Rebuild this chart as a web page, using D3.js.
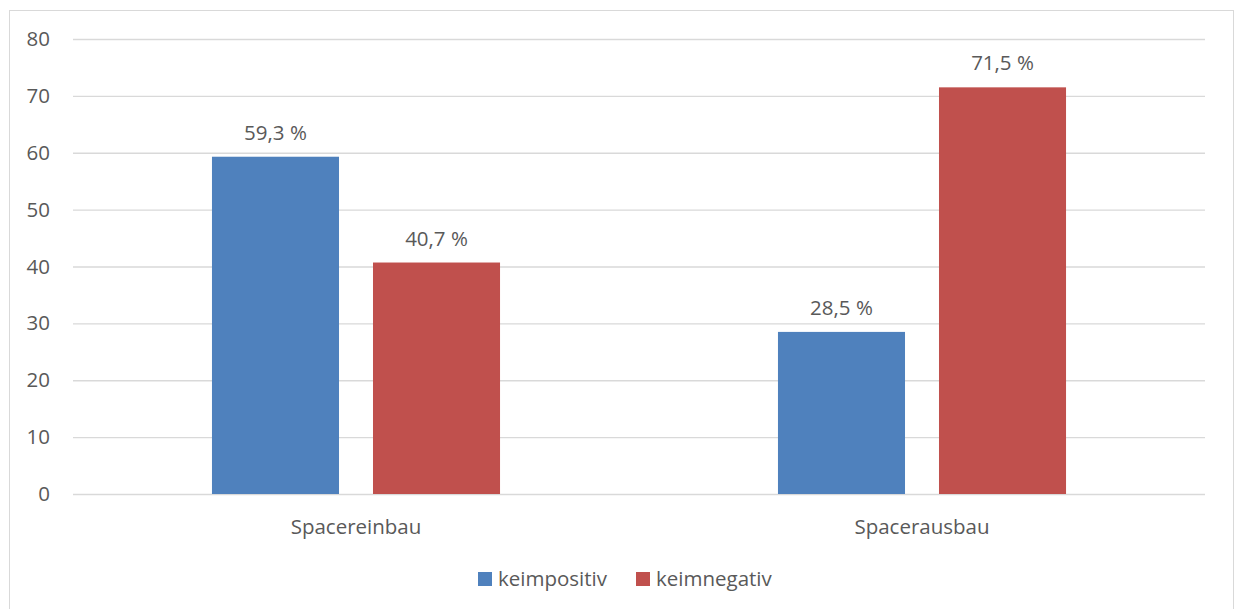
<!DOCTYPE html>
<html><head><meta charset="utf-8">
<script src="https://cdn.jsdelivr.net/npm/d3@7"></script>
<style>body{margin:0;background:#fff}text{font-family:"Open Sans",sans-serif;fill:#595959}</style>
</head><body><svg id="c" width="1235" height="609"></svg>
<script>
const categories = ["Spacereinbau", "Spacerausbau"];
const seriesNames = ["keimpositiv", "keimnegativ"];
const keimpositiv = [59.3, 28.5];
const keimnegativ = [40.7, 71.5];
const yTicks = [0, 10, 20, 30, 40, 50, 60, 70, 80];
const colors = ["#4F81BD", "#C0504D"];

(function () {
const svg = d3.select("#c");
svg.append("rect").attr("x", 9.5).attr("y", 10.5).attr("width", 1224).attr("height", 610)
  .attr("fill", "#fff").attr("stroke", "#d9d9d9");

const pL = 73, pR = 1205, pT = 39, pB = 494;
const fs = "20.5px";
const y = d3.scaleLinear().domain([0, 80]).range([pB, pT]);
const x0 = d3.scaleBand().domain(categories).range([pL, pR]);
const x1 = d3.scaleBand().domain(seriesNames).range([0, x0.bandwidth()]).paddingInner(0.211).paddingOuter(0.863);

const yAxis = d3.axisLeft(y).tickValues(yTicks).tickSize(-(pR - pL)).tickPadding(23);
const ga = svg.append("g").attr("transform", `translate(${pL},0)`).call(yAxis);
ga.select(".domain").remove();
ga.selectAll(".tick line").attr("stroke", "#d9d9d9").attr("stroke-width", 1.3);
ga.selectAll(".tick text").style("font-size", fs).style("fill", "#595959").style("font-family", "Open Sans");

const xAxis = d3.axisBottom(x0).tickSize(0).tickPadding(25);
const gx = svg.append("g").attr("transform", `translate(0,${pB})`).call(xAxis);
gx.select(".domain").remove();
gx.selectAll(".tick text").style("font-size", fs).style("fill", "#595959").style("font-family", "Open Sans");

const data = [keimpositiv, keimnegativ];
const fmt = v => d3.format(".1f")(v).replace(".", ",") + " %";
seriesNames.forEach((s, si) => {
  const g = svg.append("g");
  categories.forEach((c, ci) => {
    const v = data[si][ci];
    const bx = x0(c) + x1(s);
    g.append("rect").attr("x", bx).attr("y", y(v)).attr("width", x1.bandwidth())
      .attr("height", y(0) - y(v)).attr("fill", colors[si]);
    g.append("text").attr("x", bx + x1.bandwidth() / 2).attr("y", y(v) - 17)
      .attr("text-anchor", "middle").style("font-size", fs).text(fmt(v));
  });
});

const legend = svg.append("g");
const lx = [478, 636];
seriesNames.forEach((s, i) => {
  legend.append("rect").attr("x", lx[i]).attr("y", 572).attr("width", 14).attr("height", 14).attr("fill", colors[i]);
  legend.append("text").attr("x", lx[i] + 20).attr("y", 586).style("font-size", fs).text(s);
});
})();
</script></body></html>
